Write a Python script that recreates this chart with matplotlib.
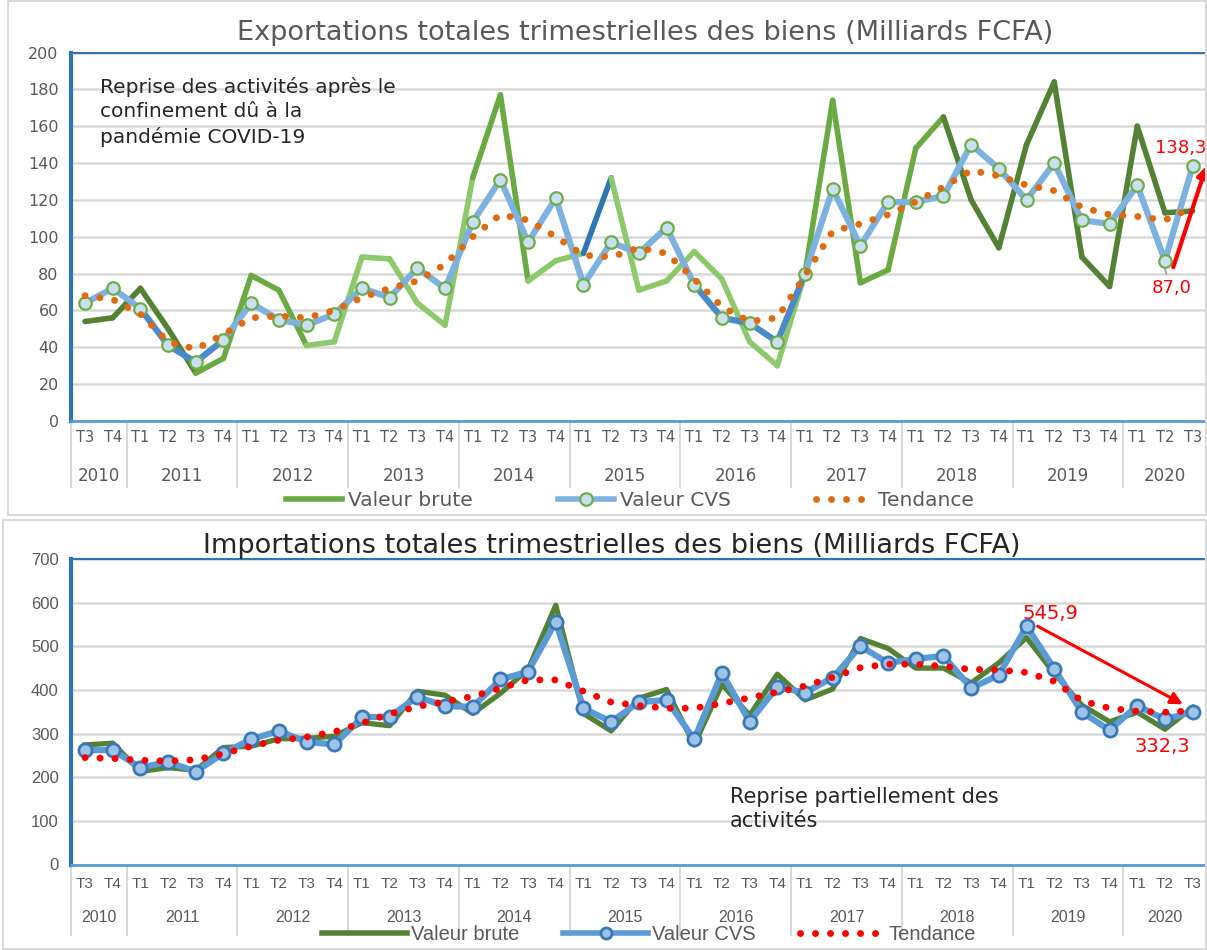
import matplotlib
matplotlib.use("Agg")
import matplotlib.pyplot as plt
from matplotlib.lines import Line2D
from matplotlib.patches import Rectangle
import matplotlib.transforms as mtransforms

# ---------------- data ----------------
quarters = ['T3', 'T4',
            'T1', 'T2', 'T3', 'T4',  # 2011
            'T1', 'T2', 'T3', 'T4',  # 2012
            'T1', 'T2', 'T3', 'T4',  # 2013
            'T1', 'T2', 'T3', 'T4',  # 2014
            'T1', 'T2', 'T3', 'T4',  # 2015
            'T1', 'T2', 'T3', 'T4',  # 2016
            'T1', 'T2', 'T3', 'T4',  # 2017
            'T1', 'T2', 'T3', 'T4',  # 2018
            'T1', 'T2', 'T3', 'T4',  # 2019
            'T1', 'T2', 'T3']        # 2020
years = ['2010', '2011', '2012', '2013', '2014', '2015',
         '2016', '2017', '2018', '2019', '2020']
year_counts = [2, 4, 4, 4, 4, 4, 4, 4, 4, 4, 3]

exp_brute = [54, 56, 72, 50, 26, 34, 79, 71, 41, 43,
             89, 88, 64, 52, 132, 177, 76, 87, 91, 132,
             71, 76, 92, 77, 43, 30, 80, 174, 75, 82,
             148, 165, 120, 94, 150, 184, 89, 73, 160, 113, 114]
exp_cvs = [64, 72, 61, 41, 32, 44, 64, 55, 52, 58,
           72, 67, 83, 72, 108, 131, 97, 121, 74, 97,
           91, 105, 74, 56, 53, 43, 80, 126, 95, 119,
           119, 122, 150, 137, 120, 140, 109, 107, 128, 87.0, 138.3]
exp_trend = [68, 66, 58, 43, 39, 47, 56, 57, 56, 60,
             67, 72, 76, 85, 100, 112, 109, 100, 90, 89,
             94, 91, 77, 62, 54, 56, 79, 103, 107, 112,
             119, 127, 136, 133, 128, 125, 116, 112, 111, 109, 116]

imp_brute = [274, 278, 213, 222, 216, 268, 271, 288, 289, 294,
             325, 318, 397, 388, 346, 392, 447, 594, 346, 306,
             381, 401, 274, 413, 342, 436, 377, 402, 518, 495,
             450, 450, 416, 462, 520, 438, 365, 327, 349, 310, 360]
imp_cvs = [262, 262, 222, 235, 213, 255, 287, 306, 281, 275,
           337, 339, 384, 363, 361, 424, 442, 556, 358, 327,
           372, 377, 287, 439, 327, 407, 394, 428, 500, 462,
           471, 478, 404, 434, 545.9, 449, 349, 308, 364, 332.3, 350]
imp_trend = [245, 243, 239, 237, 240, 254, 271, 285, 292, 304,
             324, 345, 362, 373, 385, 404, 423, 423, 397, 372,
             364, 358, 358, 369, 382, 395, 409, 429, 451, 459,
             459, 454, 447, 446, 440, 420, 375, 358, 351, 349, 352]

exp_title = "Exportations totales trimestrielles des biens (Milliards FCFA)"
imp_title = "Importations totales trimestrielles des biens (Milliards FCFA)"
exp_note = "Reprise des activités après le\nconfinement dû à la\npandémie COVID-19"
imp_note = "Reprise partiellement des\nactivités"
labels = ["Valeur brute", "Valeur CVS", "Tendance"]

# ---------------- style ----------------
W, H = 1207, 950
fig = plt.figure(figsize=(W / 100, H / 100), dpi=100)
fig.patch.set_facecolor('white')

FONT_TOP = ['DejaVu Sans']
FONT_BOT = ['Liberation Sans', 'DejaVu Sans']

TXT = '#595959'
GRID = '#D9D9D9'
D, M, L, B = '#548235', '#6BAA43', '#8DC96B', '#2E75B6'
exp_brute_cols = [D, D, D, D, M, M, M, M, L, L,
                  L, L, L, L, M, M, L, L, B, L,
                  L, L, L, L, L, L, M, M, M, M,
                  M, D, D, D, D, D, D, D, D, D]
CL, CD = '#7DB1E0', '#4A8ACB'
exp_cvs_cols = [CL, CL, CD, CD, CD, CL, CL, CL, CL, CL,
                CL, CL, CL, CL, CL, CL, CL, CL, CL, CL,
                CL, CL, CD, CD, CD, CD, CL, CL, CL, CL,
                CL, CL, CL, CL, CL, CL, CL, CL, CL, CL]
ORANGE = '#E06A10'
DOT_LW = 5.0
DOTS = (0, (0.01, 2.15))


def px_axes(left, top, right, bottom):
    return fig.add_axes([left / W, 1 - bottom / H, (right - left) / W, (bottom - top) / H])


# outer panel boxes
for (x0, y0, x1, y1) in [(8, 1, 1206, 515), (3, 520, 1206, 949)]:
    fig.patches.append(Rectangle((x0 / W, 1 - y1 / H), (x1 - x0) / W, (y1 - y0) / H,
                                 transform=fig.transFigure, fill=False,
                                 edgecolor='#D9D9D9', lw=1.5, zorder=0))


def setup_axes(ax, ymax, ystep, fam, cat_off, year_off, sep_off, fs_cat, fs_year, fs_y):
    n = len(quarters)
    ax.set_xlim(-0.5, n - 0.5)
    ax.set_ylim(0, ymax)
    ax.set_yticks(range(0, ymax + 1, ystep))
    ax.set_yticklabels([str(v) for v in range(0, ymax + 1, ystep)],
                       fontsize=fs_y, color=TXT, family=fam)
    ax.tick_params(axis='y', length=0, pad=9)
    ax.set_xticks([])
    ax.grid(axis='y', color=GRID, lw=1.8)
    ax.set_axisbelow(True)
    for s in ['top', 'right']:
        ax.spines[s].set_color('#2E75B6')
        ax.spines[s].set_linewidth(1.5)
    ax.spines['left'].set_color('#2E75B6')
    ax.spines['left'].set_linewidth(3)
    ax.spines['bottom'].set_color('#5B9BD5')
    ax.spines['bottom'].set_linewidth(2)
    tr = mtransforms.blended_transform_factory(ax.transData, ax.transAxes)
    for i, q in enumerate(quarters):
        ax.text(i, cat_off, q, transform=tr, ha='center', va='center',
                fontsize=fs_cat, color=TXT, family=fam)
    start = 0
    bounds = [-0.5]
    for y, c in zip(years, year_counts):
        ax.text(start + (c - 1) / 2, year_off, y, transform=tr, ha='center', va='center',
                fontsize=fs_year, color=TXT, family=fam)
        start += c
        bounds.append(start - 0.5)
    for b in bounds[:-1]:
        ax.add_line(Line2D([b, b], [0, sep_off], transform=tr, color='#D9D9D9',
                           lw=1.5, clip_on=False))


xs = list(range(len(quarters)))

# ---------------- top panel ----------------
AW = 1206.5 - 71.2
ax1 = px_axes(71.2, 52.5, 1206.5, 421)
setup_axes(ax1, 200, 20, FONT_TOP, -17 / 368.5, -55 / 368.5, -66 / 368.5, 10.5, 12, 11.5)
fig.text(645 / W, 1 - 33 / H, exp_title, ha='center', va='center', fontsize=19.5,
         color=TXT, family=FONT_TOP)

for i in range(len(xs) - 1):
    ax1.plot(xs[i:i + 2], exp_brute[i:i + 2], color=exp_brute_cols[i], lw=4,
             solid_capstyle='round', zorder=3)
for i in range(len(xs) - 1):
    ax1.plot(xs[i:i + 2], exp_cvs[i:i + 2], color=exp_cvs_cols[i], lw=4.5,
             solid_capstyle='round', zorder=4)
ax1.plot(xs, exp_cvs, ls='none', marker='o', ms=9, mfc='#C9DFF2', mec='#70AD47',
         mew=1.6, zorder=5)
ax1.plot(xs, exp_trend, color=ORANGE, lw=DOT_LW, ls=DOTS,
         dash_capstyle='round', zorder=6)

ax1.text((100 - 71.2) / AW, 1 - (77 - 52.5) / 368.5, exp_note, transform=ax1.transAxes,
         ha='left', va='top', fontsize=14.5, color='#262626', family=FONT_TOP,
         linespacing=1.35)
ax1.text(40.5, 148, "138,3", ha='right', va='center', fontsize=13, color='#FF0000',
         family=FONT_TOP, clip_on=False)
ax1.text(39.25, 72, "87,0", ha='center', va='center', fontsize=13, color='#FF0000',
         family=FONT_TOP)
ax1.plot([38.95, 39.05], [85, 80], color='#A6A6A6', lw=1.5, zorder=4)
ax1.annotate("", xy=(40.5, 138.5), xytext=(39.3, 83.5),
             arrowprops=dict(arrowstyle='-|>', color='#FF0000', lw=3,
                             mutation_scale=16, shrinkA=0, shrinkB=0),
             annotation_clip=False, zorder=7)

h1 = [Line2D([], [], color=M, lw=4),
      Line2D([], [], color=CL, lw=4, marker='o', ms=9, mfc='#C9DFF2', mec='#70AD47', mew=1.6),
      Line2D([], [], color=ORANGE, lw=DOT_LW, ls=DOTS, dash_capstyle='round')]
fig.legend(h1, labels, loc='center', bbox_to_anchor=(630 / W, 1 - 501 / H), ncol=3,
           frameon=False, handlelength=2.8, columnspacing=4.2, handletextpad=0.3,
           prop={'family': FONT_TOP, 'size': 14.5}, labelcolor=TXT)

# ---------------- bottom panel ----------------
ax2 = px_axes(71.2, 559, 1206.5, 864.5)
setup_axes(ax2, 700, 100, FONT_BOT, -20 / 305.5, -53 / 305.5, -70 / 305.5, 11, 11.5, 12)
fig.text(612 / W, 1 - 546 / H, imp_title, ha='center', va='center', fontsize=19.5,
         color='#262626', family=FONT_TOP)

ax2.plot(xs, imp_brute, color='#548235', lw=3.8, zorder=3)
ax2.plot(xs, imp_cvs, color='#5B9BD5', lw=4.5, marker='o', ms=9.5, mfc='#9DC3E6',
         mec='#3A78B8', mew=2, zorder=4)
ax2.plot(xs, imp_trend, color='#FF0000', lw=DOT_LW, ls=DOTS,
         dash_capstyle='round', zorder=6)

ax2.text((730 - 71.2) / AW, 1 - (787 - 559) / 305.5, imp_note,
         transform=ax2.transAxes, ha='left', va='top', fontsize=15, color='#262626',
         family=FONT_TOP, linespacing=1.25)
ax2.text(34.85, 575, "545,9", ha='center', va='center', fontsize=14, color='#FF0000',
         family=FONT_TOP)
ax2.text(38.9, 271, "332,3", ha='center', va='center', fontsize=14, color='#FF0000',
         family=FONT_TOP)
ax2.plot([38.95, 39.0], [318, 306], color='#A6A6A6', lw=1.2, zorder=2)
ax2.annotate("", xy=(39.65, 367), xytext=(34.4, 546),
             arrowprops=dict(arrowstyle='-|>', color='#FF0000', lw=2.2,
                             mutation_scale=18, shrinkA=0, shrinkB=0),
             annotation_clip=False, zorder=7)

h2 = [Line2D([], [], color='#548235', lw=4),
      Line2D([], [], color='#5B9BD5', lw=4, marker='o', ms=8, mfc='#9DC3E6', mec='#3A78B8', mew=2),
      Line2D([], [], color='#FF0000', lw=DOT_LW, ls=DOTS, dash_capstyle='round')]
fig.legend(h2, labels, loc='center', bbox_to_anchor=(649 / W, 1 - 935 / H), ncol=3,
           frameon=False, handlelength=4.2, columnspacing=2.2, handletextpad=0.2,
           prop={'family': FONT_BOT, 'size': 14.5}, labelcolor=TXT)

fig.savefig("out.png", dpi=100)
